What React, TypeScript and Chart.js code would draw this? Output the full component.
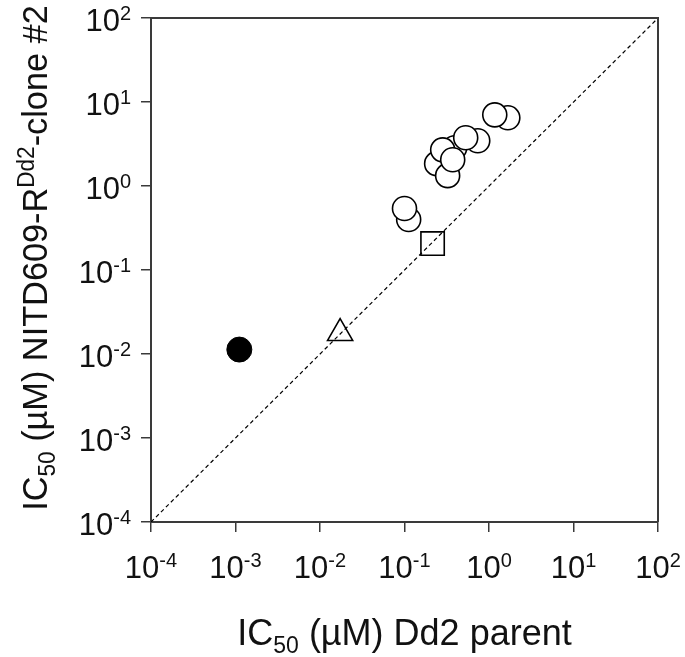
import React, { useEffect, useRef } from "react";
import { Chart, registerables } from "chart.js";

Chart.register(...registerables);

// Data (IC50 values in µM)
const resistantX = [0.112, 0.1, 0.24, 0.324, 0.393, 0.283, 0.736, 0.53, 0.372, 1.67, 1.17];
const resistantY = [0.40, 0.54, 1.85, 1.33, 2.86, 2.7, 3.46, 3.76, 2.06, 6.5, 7.05];
const nitdX = [0.00111];
const nitdY = [0.0113];
const triangleX = [0.0173];
const triangleY = [0.0177];
const squareX = [0.215];
const squareY = [0.207];
const identityLine = [0.0001, 100];

const tickExponents = [-4, -3, -2, -1, 0, 1, 2];
const tickLabels = tickExponents.map((e) => String(e));
const xTitleParts = ["IC", "50", " (µM) Dd2 parent"];
const yTitleParts = ["IC", "50", " (µM) NITD609-R", "Dd2", "-clone #2"];

const FONT = "'Liberation Sans', Arial, Helvetica, sans-serif";
const AXIS_COLOR = "#3a3a3a";

type Part = { t: string; size: number; dy: number };

function drawRich(ctx: CanvasRenderingContext2D, parts: Part[], x: number, y: number, align: "left" | "center" | "right") {
  let total = 0;
  const widths = parts.map((p) => {
    ctx.font = `${p.size}px ${FONT}`;
    const w = ctx.measureText(p.t).width;
    total += w;
    return w;
  });
  let cx = align === "left" ? x : align === "center" ? x - total / 2 : x - total;
  ctx.textAlign = "left";
  ctx.textBaseline = "alphabetic";
  parts.forEach((p, i) => {
    ctx.font = `${p.size}px ${FONT}`;
    ctx.fillText(p.t, cx, y + p.dy);
    cx += widths[i];
  });
}

const LABEL_SIZE = 31;
const SUP_SIZE = 20;
const X_TITLE_SIZE = 36;
const Y_TITLE_SIZE = 35;
const SUB_SIZE = 23;

const overlayPlugin = {
  id: "overlay",
  afterDraw(chart: any) {
    const ctx: CanvasRenderingContext2D = chart.ctx;
    const ca = chart.chartArea;
    const xs = chart.scales.x;
    const ys = chart.scales.y;
    ctx.save();
    // frame (top and right)
    ctx.strokeStyle = AXIS_COLOR;
    ctx.lineWidth = 2;
    ctx.beginPath();
    ctx.moveTo(ca.left, ca.top);
    ctx.lineTo(ca.right, ca.top);
    ctx.lineTo(ca.right, ca.bottom);
    ctx.stroke();

    ctx.fillStyle = "#111";
    // x tick labels
    tickExponents.forEach((e, i) => {
      const px = xs.getPixelForValue(Math.pow(10, e));
      drawRich(
        ctx,
        [
          { t: "10", size: LABEL_SIZE, dy: 0 },
          { t: tickLabels[i], size: SUP_SIZE, dy: -11 },
        ],
        px,
        ca.bottom + 56,
        "center"
      );
    });
    // y tick labels
    tickExponents.forEach((e, i) => {
      const py = ys.getPixelForValue(Math.pow(10, e));
      drawRich(
        ctx,
        [
          { t: "10", size: LABEL_SIZE, dy: 0 },
          { t: tickLabels[i], size: SUP_SIZE, dy: -11 },
        ],
        ca.left - 20,
        py + 13,
        "right"
      );
    });
    // x title
    drawRich(
      ctx,
      [
        { t: xTitleParts[0], size: X_TITLE_SIZE, dy: 0 },
        { t: xTitleParts[1], size: SUB_SIZE, dy: 8 },
        { t: xTitleParts[2], size: X_TITLE_SIZE, dy: 0 },
      ],
      (ca.left + ca.right) / 2,
      ca.bottom + 123,
      "center"
    );
    // y title
    ctx.translate(47, 258);
    ctx.rotate(-Math.PI / 2);
    ctx.scale(0.98, 1);
    drawRich(
      ctx,
      [
        { t: yTitleParts[0], size: Y_TITLE_SIZE, dy: 0 },
        { t: yTitleParts[1], size: SUB_SIZE, dy: 8 },
        { t: yTitleParts[2], size: Y_TITLE_SIZE, dy: 0 },
        { t: yTitleParts[3], size: SUB_SIZE, dy: -13 },
        { t: yTitleParts[4], size: Y_TITLE_SIZE, dy: 0 },
      ],
      0,
      0,
      "center"
    );
    ctx.restore();
  },
};

const decadeTicks = (scale: any) => {
  scale.ticks = tickExponents.map((e) => ({ value: Math.pow(10, e) }));
};

export default function App() {
  const ref = useRef<HTMLCanvasElement | null>(null);
  useEffect(() => {
    if (!ref.current) return;
    const pts = (xs: number[], ys: number[]) => xs.map((x, i) => ({ x, y: ys[i] }));
    const chart = new Chart(ref.current, {
      type: "scatter",
      data: {
        datasets: [
          {
            type: "line",
            label: "identity",
            data: identityLine.map((v) => ({ x: v, y: v })),
            borderColor: "#000",
            borderWidth: 1.2,
            borderDash: [4, 3],
            pointRadius: 0,
            fill: false,
          } as any,
          {
            label: "NITD609",
            data: pts(nitdX, nitdY),
            pointRadius: 12.5,
            pointBackgroundColor: "#000",
            pointBorderColor: "#000",
            pointBorderWidth: 1,
          },
          {
            label: "triangle",
            data: pts(triangleX, triangleY),
            pointStyle: "triangle",
            pointRadius: 14.5,
            pointBackgroundColor: "#fff",
            pointBorderColor: "#000",
            pointBorderWidth: 1.6,
          },
          {
            label: "square",
            data: pts(squareX, squareY),
            pointStyle: "rect",
            pointRadius: 16.5,
            pointBackgroundColor: "#fff",
            pointBorderColor: "#000",
            pointBorderWidth: 1.6,
          },
          {
            label: "resistant",
            data: pts(resistantX, resistantY),
            pointRadius: 12,
            pointBackgroundColor: "#fff",
            pointBorderColor: "#000",
            pointBorderWidth: 1.6,
          },
        ],
      },
      options: {
        animation: false,
        responsive: true,
        maintainAspectRatio: false,
        layout: { padding: { left: 141, right: 27, top: 17, bottom: 125 } },
        plugins: { legend: { display: false }, tooltip: { enabled: false } },
        scales: {
          x: {
            type: "logarithmic",
            position: "bottom",
            min: 1e-4,
            max: 1e2,
            afterBuildTicks: decadeTicks,
            ticks: { display: false },
            grid: { drawOnChartArea: false, drawTicks: true, tickLength: 10, color: AXIS_COLOR, lineWidth: 1.5 },
            border: { display: true, color: AXIS_COLOR, width: 2 },
          },
          y: {
            type: "logarithmic",
            position: "left",
            min: 1e-4,
            max: 1e2,
            afterBuildTicks: decadeTicks,
            ticks: { display: false },
            grid: { drawOnChartArea: false, drawTicks: true, tickLength: 10, color: AXIS_COLOR, lineWidth: 1.5 },
            border: { display: true, color: AXIS_COLOR, width: 2 },
          },
        },
      },
      plugins: [overlayPlugin],
    });
    return () => chart.destroy();
  }, []);
  return (
    <div style={{ position: "fixed", left: 0, top: 0, width: 685, height: 657, background: "#fff" }}>
      <canvas ref={ref} />
    </div>
  );
}
